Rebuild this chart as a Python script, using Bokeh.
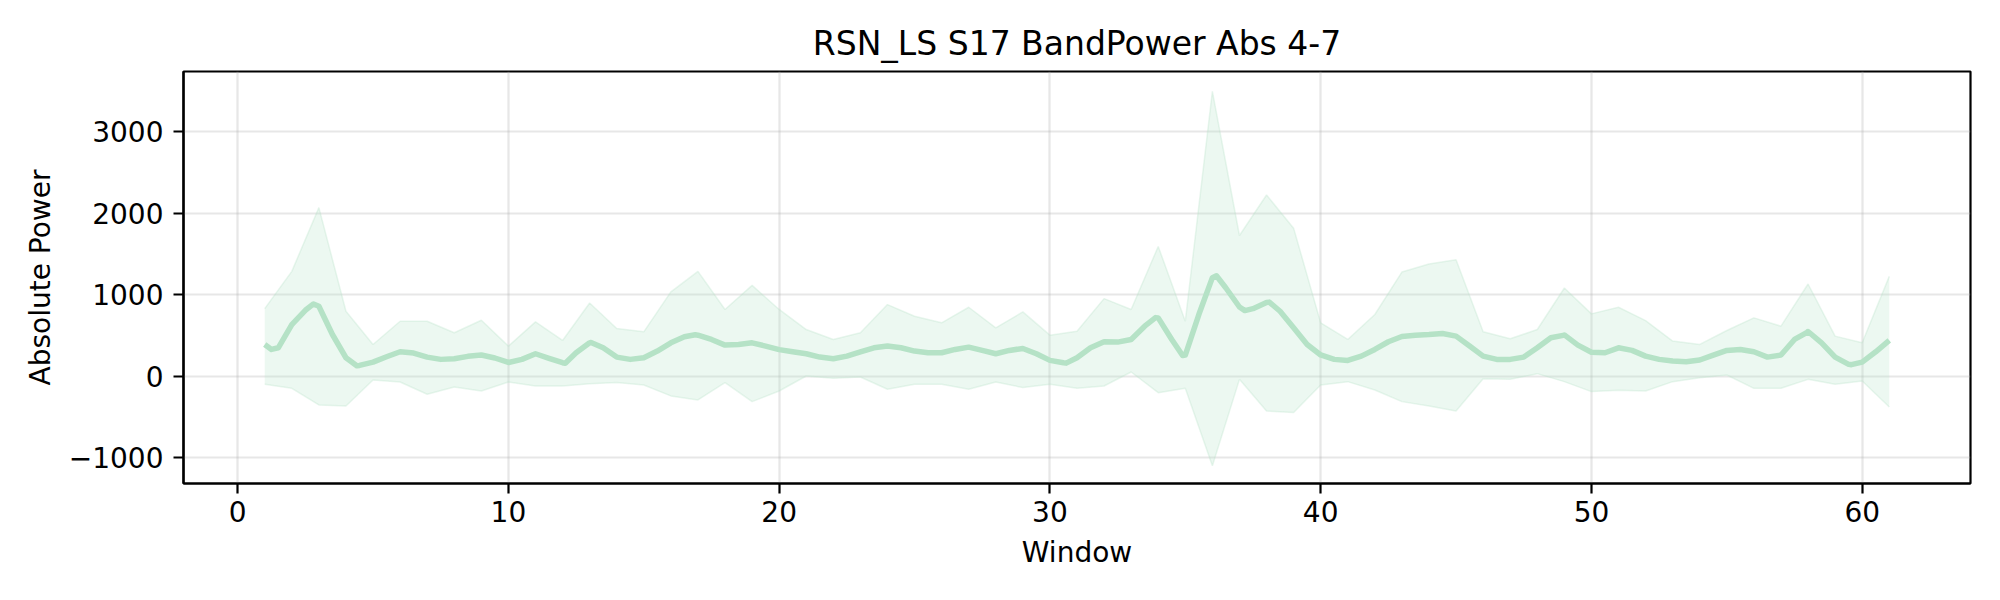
from bokeh.plotting import figure
from bokeh.models import FixedTicker, Range1d, ColumnDataSource
from bokeh.embed import file_html
from bokeh.resources import INLINE

title_text = "RSN_LS S17 BandPower Abs 4-7"
x_label = "Window"
y_label = "Absolute Power"

x_ticks = [0, 10, 20, 30, 40, 50, 60]
y_ticks = [-1000, 0, 1000, 2000, 3000]

# mean curve, read every half window (1 .. 61)
half_x = [1 + 0.5 * i for i in range(121)]
half_y = [390, 350, 635, 810, 860, 513, 228, 134, 175, 240,
          301, 285, 236, 208, 216, 245, 261, 225, 170, 208,
          277, 220, 167, 289, 411, 350, 236, 208, 228, 310,
          411, 485, 505, 452, 383, 391, 411, 371, 328, 301,
          277, 236, 216, 248, 301, 350, 371, 350, 310, 289,
          289, 330, 358, 318, 277, 318, 342, 277, 196, 167,
          228, 350, 424, 420, 452, 615, 717, 452, 261, 758,
          1210, 1083, 850, 830, 905, 798, 595, 391, 262, 208,
          196, 248, 330, 424, 489, 505, 513, 525, 493, 371,
          248, 208, 208, 236, 350, 473, 505, 383, 295, 289,
          350, 318, 248, 208, 187, 179, 200, 261, 318, 330,
          301, 236, 261, 452, 546, 411, 236, 147, 175, 301,
          440]
# extra readings at visible peaks and troughs of the mean curve
extra_x = [1.25, 2.8, 4.4, 12.1, 13.05, 16.9, 30.6, 33.9, 34.9, 36.15, 37.2, 38.1, 41.0, 49.0, 58.0, 59.6]
extra_y = [330, 888, 130, 160, 415, 510, 162, 720, 255, 1234, 806, 910, 194, 508, 550, 143]

pts = sorted(zip(half_x + extra_x, half_y + extra_y))
mean_x = [a for a, b in pts]
mean_y = [b for a, b in pts]

# band (mean +/- spread), one value per window
band_x = list(range(1, 62))
upper = [831, 1287, 2069, 798, 391, 676, 676, 534, 688, 371,
         668, 440, 900, 587, 546, 1035, 1287, 819, 1116, 820,
         574, 452, 534, 880, 737, 656, 847, 595, 790, 505,
         554, 953, 819, 1593, 676, 3495, 1727, 2224, 1817, 656,
         452, 758, 1279, 1377, 1430, 546, 460, 574, 1083, 766,
         847, 684, 432, 391, 562, 717, 615, 1132, 493, 411,
         1226]
lower = [-98, -147, -350, -363, -45, -69, -220, -130, -179, -70,
         -118, -118, -90, -77, -106, -240, -289, -77, -310, -180,
         4, -24, -8, -159, -98, -98, -159, -69, -138, -98,
         -147, -118, 53, -200, -147, -1096, -37, -424, -444, -106,
         -65, -167, -310, -363, -424, -29, -37, 33, -65, -187,
         -171, -179, -65, -16, 16, -147, -147, -37, -98, -57,
         -375]

col = "#b5e2c6"
font = "DejaVu Sans"

p = figure(width=2000, height=600, output_backend="svg", toolbar_location=None,
           x_range=Range1d(-2, 64), y_range=Range1d(-1314, 3738),
           min_border_left=183, min_border_right=30, min_border_top=71, min_border_bottom=117)

band = ColumnDataSource(dict(x=band_x, up=upper, lo=lower))
p.varea(x="x", y1="lo", y2="up", source=band, fill_color=col, fill_alpha=0.25)
p.line(x="x", y="up", source=band, line_color=col, line_alpha=0.3, line_width=1.5)
p.line(x="x", y="lo", source=band, line_color=col, line_alpha=0.3, line_width=1.5)
p.line(mean_x, mean_y, line_color=col, line_width=5.5, line_join="round")

p.title.text = title_text
p.title.text_font = font
p.title.text_font_size = "33px"
p.title.text_font_style = "normal"
p.title.text_color = "black"
p.title.align = "center"
p.title.standoff = 18

p.xaxis.ticker = FixedTicker(ticks=x_ticks)
p.yaxis.ticker = FixedTicker(ticks=y_ticks)
p.yaxis.major_label_overrides = {t: (str(t).replace("-", "\u2212")) for t in y_ticks}
p.xaxis.axis_label = x_label
p.yaxis.axis_label = y_label

for ax in (p.xaxis, p.yaxis):
    ax.axis_label_text_font = font
    ax.axis_label_text_font_size = "28px"
    ax.axis_label_text_font_style = "normal"
    ax.axis_label_text_color = "black"
    ax.major_label_text_font = font
    ax.major_label_text_font_size = "28px"
    ax.major_label_text_color = "black"
    ax.major_tick_out = 10
    ax.major_tick_in = 0
    ax.major_tick_line_width = 2.2
    ax.major_tick_line_color = "black"
    ax.minor_tick_line_color = None
    ax.axis_line_color = "black"
    ax.axis_line_width = 2.2
    ax.major_label_standoff = 10
p.xaxis.major_label_standoff = 7
p.xaxis.axis_label_standoff = 11
p.yaxis.axis_label_standoff = 9

p.xgrid.grid_line_color = "#b0b0b0"
p.ygrid.grid_line_color = "#b0b0b0"
p.xgrid.grid_line_alpha = 0.3
p.ygrid.grid_line_alpha = 0.3
p.xgrid.grid_line_width = 2.2
p.ygrid.grid_line_width = 2.2

p.outline_line_color = "black"
p.outline_line_width = 2.2
p.outline_line_alpha = 1.0

open("out.html", "w").write(file_html(p, INLINE))
